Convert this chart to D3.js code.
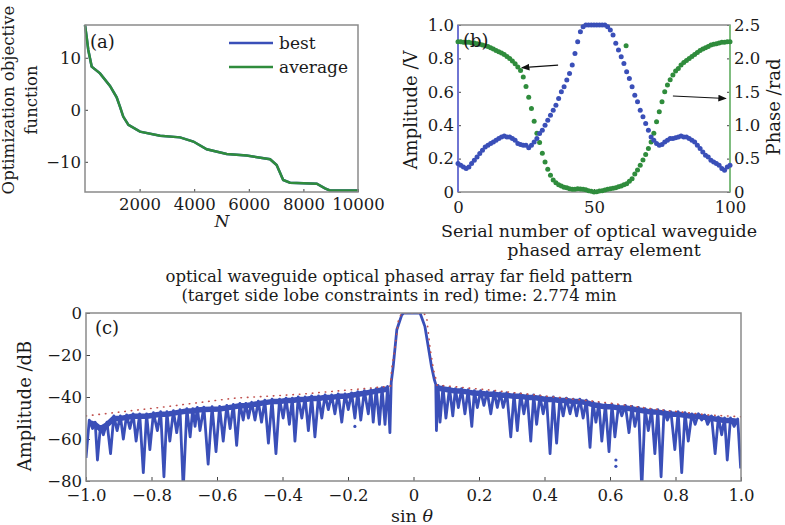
<!DOCTYPE html>
<html>
<head>
<meta charset="utf-8">
<script src="https://cdn.jsdelivr.net/npm/d3@7"></script>
<style>
  body { margin: 0; background: #fff; }
  svg text { font-family: "DejaVu Serif", serif; fill: #1a1a1a; }
</style>
</head>
<body>
<div class="chart"></div>
<script>
// ---- (a) optimisation curve ----
var iterN   = [0, 60, 120, 245, 550, 916, 1160, 1280, 1400, 1590, 2015, 2750, 3480, 3970, 4460, 5190, 5920, 6780, 7020, 7260, 7510, 8490, 8790, 8970, 10000];
var bestVal = [16.3, 14, 11.5, 8.3, 7.0, 4.6, 2.4, 0.6, -1.3, -2.9, -4.2, -5.0, -5.3, -6.1, -7.6, -8.5, -8.8, -9.5, -10.6, -13.5, -14.0, -14.2, -15.1, -15.5, -15.5];
var avgVal  = [16.3, 14, 11.5, 8.3, 7.0, 4.6, 2.4, 0.6, -1.3, -2.9, -4.2, -5.0, -5.3, -6.1, -7.6, -8.5, -8.8, -9.5, -10.6, -13.5, -14.0, -14.2, -15.1, -15.5, -15.5];
var ticksA_x = [2000, 4000, 6000, 8000, 10000];
var ticksA_y = [-10, 0, 10];

// ---- (b) element amplitude / phase ----
var amplitude = [0.17, 0.16, 0.15, 0.14, 0.15, 0.17, 0.19, 0.21, 0.23, 0.25,
  0.27, 0.28, 0.29, 0.30, 0.31, 0.32, 0.33, 0.335, 0.33, 0.33,
  0.32, 0.31, 0.29, 0.285, 0.28, 0.28, 0.265, 0.28, 0.30, 0.32,
  0.35, 0.37, 0.40, 0.43, 0.46, 0.49, 0.52, 0.56, 0.60, 0.63,
  0.67, 0.71, 0.76, 0.83, 0.90, 0.96, 0.99, 1.0, 1.0, 1.0,
  1.0, 1.0, 1.0, 1.0, 1.0, 0.99, 0.97, 0.94, 0.89, 0.85,
  0.81, 0.77, 0.72, 0.68, 0.63, 0.58, 0.54, 0.49, 0.45, 0.41,
  0.37, 0.33, 0.31, 0.29, 0.28, 0.285, 0.30, 0.31, 0.32, 0.32,
  0.325, 0.33, 0.335, 0.33, 0.33, 0.32, 0.31, 0.30, 0.28, 0.26,
  0.24, 0.22, 0.21, 0.19, 0.18, 0.17, 0.16, 0.14, 0.13, 0.15, 0.16];
var phase = [2.25, 2.25, 2.24, 2.24, 2.24, 2.23, 2.23, 2.22, 2.21, 2.20,
  2.19, 2.18, 2.16, 2.14, 2.12, 2.10, 2.08, 2.06, 2.03, 2.0,
  1.96, 1.92, 1.87, 1.82, 1.72, 1.58, 1.42, 1.25, 1.06, 0.88,
  0.74, 0.58, 0.45, 0.34, 0.25, 0.18, 0.14, 0.11, 0.09, 0.07,
  0.065, 0.05, 0.04, 0.04, 0.05, 0.045, 0.04, 0.035, 0.02, 0.01,
  0.0, 0.005, 0.015, 0.02, 0.03, 0.04, 0.05, 0.055, 0.065, 0.08,
  0.09, 0.11, 0.125, 0.16, 0.2, 0.27, 0.33, 0.4, 0.48, 0.56,
  0.65, 0.75, 0.88, 1.05, 1.2, 1.35, 1.5, 1.6, 1.68, 1.75,
  1.81, 1.85, 1.9, 1.94, 1.97, 2.0, 2.03, 2.06, 2.09, 2.12,
  2.14, 2.16, 2.18, 2.2, 2.21, 2.22, 2.23, 2.24, 2.24, 2.25, 2.25];
var phaseStray = [[61.8, 2.19]];
var ticksB_x = [0, 50, 100];
var ticksB_amp = [0, 0.2, 0.4, 0.6, 0.8, 1.0];
var ticksB_phase = [0, 0.5, 1.0, 1.5, 2.0, 2.5];

// ---- (c) far field pattern: trace vertices [sin theta, dB], lobe tops and nulls ----
var farField = [
  [-1.0, -69], [-0.99, -51], [-0.98, -55], [-0.972, -52], [-0.965, -70], [-0.956, -54], [-0.947, -58], [-0.936, -52],
  [-0.925, -67], [-0.915, -49], [-0.905, -56], [-0.895, -49], [-0.886, -60], [-0.876, -48.5], [-0.866, -55], [-0.856, -48],
  [-0.847, -61], [-0.836, -48], [-0.825, -76], [-0.815, -48], [-0.805, -65], [-0.794, -47.5], [-0.782, -56], [-0.772, -47],
  [-0.762, -78], [-0.753, -47], [-0.744, -61], [-0.733, -46.5], [-0.723, -57], [-0.713, -46], [-0.703, -84], [-0.692, -45.5],
  [-0.682, -59], [-0.674, -45.5], [-0.667, -54], [-0.66, -45], [-0.652, -56], [-0.64, -44.8], [-0.627, -72], [-0.615, -44.6],
  [-0.603, -66], [-0.592, -44.5], [-0.581, -61], [-0.57, -44], [-0.56, -55], [-0.55, -43.5], [-0.54, -63], [-0.53, -43],
  [-0.52, -51], [-0.512, -43], [-0.504, -50], [-0.494, -42.5], [-0.484, -51], [-0.474, -42], [-0.464, -52], [-0.454, -41.5],
  [-0.443, -62], [-0.432, -41], [-0.42, -67], [-0.409, -41], [-0.398, -50], [-0.389, -40.5], [-0.379, -53], [-0.37, -40.5],
  [-0.362, -61], [-0.352, -40], [-0.341, -50], [-0.331, -40], [-0.321, -56], [-0.311, -39.5], [-0.301, -59], [-0.29, -39.5],
  [-0.28, -50], [-0.27, -39], [-0.26, -46], [-0.25, -39], [-0.24, -48], [-0.23, -38.5], [-0.219, -52], [-0.209, -38.5],
  [-0.199, -46], [-0.189, -38], [-0.179, -50], [-0.17, -37.5], [-0.161, -51], [-0.15, -37], [-0.138, -48], [-0.13, -36.5],
  [-0.123, -52], [-0.114, -36], [-0.104, -53], [-0.096, -35.5], [-0.087, -53], [-0.079, -35], [-0.072, -57],
  [-0.068, -33], [-0.062, -25.5], [-0.051, -8], [-0.036, -1], [-0.03, 0], [0.02, 0], [0.035, -6.5], [0.045, -16],
  [0.055, -25.5], [0.064, -32], [0.068, -34],
  [0.07, -56], [0.075, -34.5], [0.081, -52], [0.09, -35], [0.099, -50], [0.11, -35.5], [0.12, -49], [0.128, -36],
  [0.137, -45], [0.147, -36], [0.157, -48], [0.167, -36.5], [0.178, -54], [0.186, -37], [0.195, -45], [0.205, -37],
  [0.215, -44], [0.225, -37.5], [0.236, -48], [0.246, -37.5], [0.256, -45], [0.265, -38], [0.274, -45], [0.285, -38],
  [0.297, -59], [0.307, -38.5], [0.317, -56], [0.327, -38.5], [0.337, -48], [0.347, -39], [0.358, -61], [0.367, -39],
  [0.376, -53], [0.386, -39.5], [0.396, -48], [0.406, -40], [0.417, -67], [0.427, -40], [0.437, -62], [0.447, -40.5],
  [0.457, -49], [0.467, -40.5], [0.478, -48], [0.488, -41], [0.498, -49], [0.508, -41], [0.518, -50], [0.528, -41.5],
  [0.539, -64], [0.548, -42.5], [0.557, -52], [0.566, -43], [0.575, -61], [0.586, -43.5], [0.597, -66], [0.606, -43.5],
  [0.615, -59], [0.626, -44], [0.636, -49], [0.647, -44], [0.658, -57], [0.667, -44.5], [0.676, -54], [0.687, -45],
  [0.697, -84], [0.707, -45.5], [0.717, -56], [0.727, -46], [0.737, -67], [0.746, -46], [0.756, -78], [0.765, -46.5],
  [0.775, -51], [0.786, -47], [0.798, -65], [0.808, -47], [0.819, -76], [0.829, -47.5], [0.839, -61], [0.85, -48],
  [0.86, -53], [0.87, -48], [0.88, -51], [0.889, -48.5], [0.898, -53], [0.91, -49], [0.921, -67], [0.931, -49.5],
  [0.941, -58], [0.95, -50], [0.958, -70], [0.968, -50], [0.979, -54], [0.99, -50.5], [0.999, -74]
];
var farStray = [[0.618, -70], [0.618, -73], [-0.179, -54]];
// side lobe constraint (red)
var maskSide = [
  [[-1.0, -49], [-0.754, -44.6], [-0.55, -40.6], [-0.347, -38.7], [-0.143, -35.9], [-0.07, -34.8]],
  [[0.071, -34.3], [0.234, -36.7], [0.417, -39.8], [0.59, -42.7], [0.743, -45.9], [0.905, -48.6], [1.0, -49.4]]
];
var maskMain = [[-0.07, -34.8], [-0.067, -27], [-0.056, -16], [-0.046, -3.3], [-0.036, 0], [0.03, 0],
  [0.04, -1.7], [0.05, -16], [0.061, -27], [0.071, -33]];
var ticksC_x = [-1.0, -0.8, -0.6, -0.4, -0.2, 0, 0.2, 0.4, 0.6, 0.8, 1.0];
var ticksC_y = [0, -20, -40, -60, -80];

var width = 785, height = 525;
var blue = "#3a4fb8", green = "#2f8c3c", red = "#c0504d", frame = "#8a8a8a";

var svg = d3.select(".chart").append("svg")
    .attr("width", width)
    .attr("height", height);

var fmt1 = function(d) { return d === 0 ? "0" : d3.format(".1f")(d); };

function drawFrame(g, x0, y0, x1, y1) {
  g.append("rect")
    .attr("x", x0).attr("y", y0)
    .attr("width", x1 - x0).attr("height", y1 - y0)
    .attr("fill", "none")
    .attr("stroke", frame)
    .attr("stroke-width", 1.5);
}

function styleAxis(g) {
  g.select(".domain").remove();
  g.selectAll(".tick line").attr("stroke", "#444");
  g.selectAll(".tick text").attr("font-size", 16.5).attr("fill", "#1a1a1a")
    .attr("font-family", "DejaVu Serif, serif");
}

// ================= panel (a) =================
var ga = svg.append("g");
var xa = d3.scaleLinear().domain([0, 10000]).range([85, 358]);
var ya = d3.scaleLinear().domain([-15.8, 16.3]).range([192, 25]);

ga.append("g")
    .attr("transform", "translate(0,192)")
    .call(d3.axisBottom(xa).tickValues(ticksA_x).tickFormat(d3.format("d")).tickSize(-3).tickPadding(6))
    .call(styleAxis);
ga.append("g")
    .attr("transform", "translate(85,0)")
    .call(d3.axisLeft(ya).tickValues(ticksA_y).tickSize(-3).tickPadding(4))
    .call(styleAxis);

var lineA = d3.line()
    .x(function(d) { return xa(d[0]); })
    .y(function(d) { return ya(d[1]); });

ga.append("path")
    .datum(d3.zip(iterN, bestVal))
    .attr("d", lineA)
    .attr("fill", "none")
    .attr("stroke", blue)
    .attr("stroke-width", 2.5);
ga.append("path")
    .datum(d3.zip(iterN, avgVal))
    .attr("d", lineA)
    .attr("fill", "none")
    .attr("stroke", green)
    .attr("stroke-width", 2.5);

drawFrame(ga, 85, 25, 358, 192);

ga.append("text").attr("x", 90).attr("y", 48).attr("font-size", 18).text("(a)");

// legend
var legA = [["best", blue, 43], ["average", green, 67]];
legA.forEach(function(l) {
  ga.append("line").attr("x1", 229).attr("x2", 273).attr("y1", l[2]).attr("y2", l[2])
    .attr("stroke", l[1]).attr("stroke-width", 2.5);
  ga.append("text").attr("x", 279).attr("y", l[2] + 6).attr("font-size", 17).text(l[0]);
});

ga.append("text")
    .attr("x", 222).attr("y", 227)
    .attr("text-anchor", "middle")
    .attr("font-size", 17)
    .attr("font-style", "italic")
    .text("N");
ga.append("text")
    .attr("transform", "translate(14,100) rotate(-90)")
    .attr("text-anchor", "middle")
    .attr("font-size", 16.5)
    .text("Optimization objective");
ga.append("text")
    .attr("transform", "translate(37,100) rotate(-90)")
    .attr("text-anchor", "middle")
    .attr("font-size", 16.5)
    .text("function");

// ================= panel (b) =================
var gb = svg.append("g");
var xb = d3.scaleLinear().domain([0, 100]).range([458, 730]);
var ybL = d3.scaleLinear().domain([0, 1]).range([192, 25]);
var ybR = d3.scaleLinear().domain([0, 2.5]).range([192, 25]);

gb.append("g")
    .attr("transform", "translate(0,192)")
    .call(d3.axisBottom(xb).tickValues(ticksB_x).tickSize(-3).tickPadding(9))
    .call(styleAxis);
gb.append("g")
    .attr("transform", "translate(458,0)")
    .call(d3.axisLeft(ybL).tickValues(ticksB_amp).tickFormat(fmt1).tickSize(-3).tickPadding(4))
    .call(styleAxis);
gb.append("g")
    .attr("transform", "translate(730,0)")
    .call(d3.axisRight(ybR).tickValues(ticksB_phase).tickFormat(fmt1).tickSize(-3).tickPadding(4))
    .call(styleAxis);

drawFrame(gb, 458, 25, 730, 192);
gb.append("line").attr("x1", 458).attr("x2", 458).attr("y1", 25).attr("y2", 192)
    .attr("stroke", "#6a70d8").attr("stroke-width", 1.8);
gb.append("line").attr("x1", 730).attr("x2", 730).attr("y1", 25).attr("y2", 192)
    .attr("stroke", "#7cc07c").attr("stroke-width", 1.8);

gb.selectAll("circle.ph")
    .data(phase.map(function(v, i) { return [i, v]; }).concat(phaseStray))
  .enter().append("circle")
    .attr("class", "ph")
    .attr("cx", function(d) { return xb(d[0]); })
    .attr("cy", function(d) { return ybR(d[1]); })
    .attr("r", 2.5)
    .attr("fill", green);

gb.selectAll("circle.amp")
    .data(amplitude)
  .enter().append("circle")
    .attr("class", "amp")
    .attr("cx", function(d, i) { return xb(i); })
    .attr("cy", function(d) { return ybL(d); })
    .attr("r", 2.5)
    .attr("fill", blue);

gb.append("text").attr("x", 463).attr("y", 47).attr("font-size", 18).text("(b)");

svg.append("defs").append("marker")
    .attr("id", "arr")
    .attr("viewBox", "0 0 10 10")
    .attr("refX", 9).attr("refY", 5)
    .attr("markerWidth", 7).attr("markerHeight", 7)
    .attr("orient", "auto")
  .append("path")
    .attr("d", "M0,1 L10,5 L0,9 z")
    .attr("fill", "#111");
gb.append("line").attr("x1", xb(36.8)).attr("y1", ybL(0.76)).attr("x2", xb(23.5)).attr("y2", ybL(0.745))
    .attr("stroke", "#111").attr("stroke-width", 1.2).attr("marker-end", "url(#arr)");
gb.append("line").attr("x1", xb(79)).attr("y1", ybL(0.575)).attr("x2", xb(98.5)).attr("y2", ybL(0.56))
    .attr("stroke", "#111").attr("stroke-width", 1.2).attr("marker-end", "url(#arr)");

gb.append("text")
    .attr("x", 599).attr("y", 237)
    .attr("text-anchor", "middle")
    .attr("font-size", 17.5)
    .text("Serial number of optical waveguide");
gb.append("text")
    .attr("x", 604).attr("y", 256)
    .attr("text-anchor", "middle")
    .attr("font-size", 17.5)
    .text("phased array element");
gb.append("text")
    .attr("transform", "translate(417,110) rotate(-90)")
    .attr("text-anchor", "middle")
    .attr("font-size", 18)
    .text("Amplitude /V");
gb.append("text")
    .attr("transform", "translate(780,107) rotate(-90)")
    .attr("text-anchor", "middle")
    .attr("font-size", 18)
    .text("Phase /rad");

// ================= panel (c) =================
var gc = svg.append("g");
var xc = d3.scaleLinear().domain([-1, 1]).range([86, 741]);
var yc = d3.scaleLinear().domain([-80, 0]).range([481, 313]);

gc.append("clipPath").attr("id", "clipC")
  .append("rect").attr("x", 86).attr("y", 313).attr("width", 655).attr("height", 168);

gc.append("g")
    .attr("transform", "translate(0,481)")
    .call(d3.axisBottom(xc).tickValues(ticksC_x).tickFormat(fmt1).tickSize(-4).tickPadding(8))
    .call(styleAxis);
gc.append("g")
    .attr("transform", "translate(86,0)")
    .call(d3.axisLeft(yc).tickValues(ticksC_y).tickSize(-4).tickPadding(4))
    .call(styleAxis);

var lineC = d3.line()
    .x(function(d) { return xc(d[0]); })
    .y(function(d) { return yc(d[1]); });

var plotC = gc.append("g").attr("clip-path", "url(#clipC)");

// the whole trace
plotC.append("path")
    .datum(farField)
    .attr("d", lineC)
    .attr("fill", "none")
    .attr("stroke", blue)
    .attr("stroke-width", 2.8)
    .attr("stroke-linejoin", "round");

// thick band along the side lobe tops
var sides = [
  farField.filter(function(d) { return d[0] < -0.071; }),
  farField.filter(function(d) { return d[0] > 0.069; })
];
sides.forEach(function(side) {
  var tops = side.filter(function(d, i) {
    var a = side[i - 1], b = side[i + 1];
    return !((!a || d[1] < a[1]) && (!b || d[1] < b[1]));
  });
  plotC.append("path")
    .datum(tops)
    .attr("d", lineC)
    .attr("transform", "translate(0,2.5)")
    .attr("fill", "none")
    .attr("stroke", blue)
    .attr("stroke-width", 5.5)
    .attr("stroke-linejoin", "round");
});

plotC.selectAll("circle.stray")
    .data(farStray)
  .enter().append("circle")
    .attr("class", "stray")
    .attr("cx", function(d) { return xc(d[0]); })
    .attr("cy", function(d) { return yc(d[1]); })
    .attr("r", 1.6)
    .attr("fill", blue);

maskSide.concat([maskMain]).forEach(function(m) {
  plotC.append("path")
    .datum(m)
    .attr("d", lineC)
    .attr("fill", "none")
    .attr("stroke", red)
    .attr("stroke-width", 1.6)
    .attr("stroke-linecap", "round")
    .attr("stroke-dasharray", "0.5,6");
});

drawFrame(gc, 86, 313, 741, 481);

gc.append("text").attr("x", 95).attr("y", 334).attr("font-size", 18).text("(c)");

gc.append("text")
    .attr("x", 399).attr("y", 282)
    .attr("text-anchor", "middle")
    .attr("font-size", 16.5)
    .text("optical waveguide optical phased array far field pattern");
gc.append("text")
    .attr("x", 399).attr("y", 301)
    .attr("text-anchor", "middle")
    .attr("font-size", 16.5)
    .text("(target side lobe constraints in red) time: 2.774 min");

var sinLabel = gc.append("text")
    .attr("x", 412).attr("y", 522)
    .attr("text-anchor", "middle")
    .attr("font-size", 17.5);
sinLabel.append("tspan").text("sin ");
sinLabel.append("tspan").attr("font-style", "italic").text("θ");

gc.append("text")
    .attr("transform", "translate(31,406) rotate(-90)")
    .attr("text-anchor", "middle")
    .attr("font-size", 18)
    .text("Amplitude /dB");
</script>
</body>
</html>
